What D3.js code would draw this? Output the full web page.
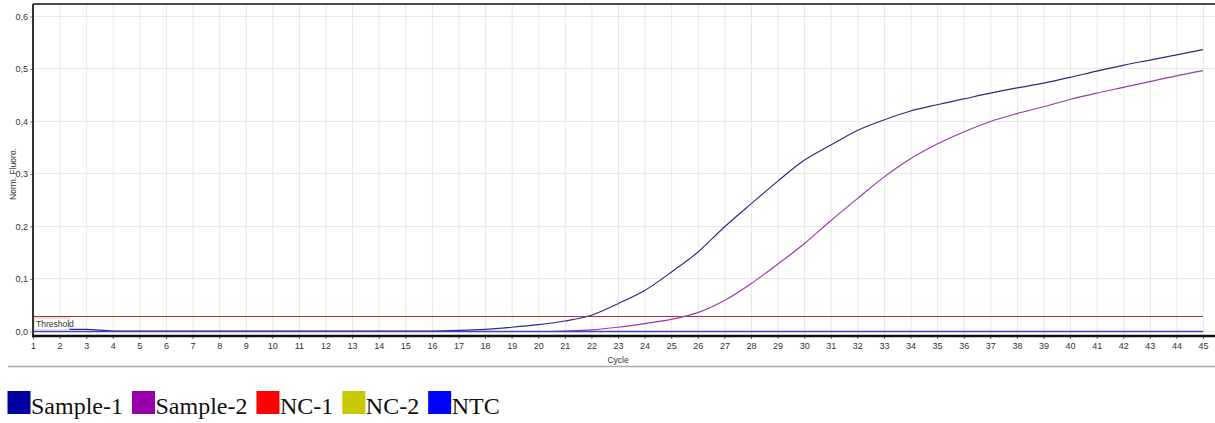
<!DOCTYPE html>
<html>
<head>
<meta charset="utf-8">
<script src="https://cdn.jsdelivr.net/npm/d3@7"></script>
<style>
  body { margin: 0; background: #fff; }
  svg { display: block; }
  .tick-label { font-family: "Liberation Sans", Arial, sans-serif; font-size: 9px; fill: #333; }
  .legend-label { font-family: "Liberation Serif", "Times New Roman", serif; font-size: 24px; fill: #111; }
</style>
</head>
<body>
<script>
(function () {
  'use strict';

  // cycles 1..45
  var cycles = d3.range(1, 46);

  // normalised fluorescence per cycle
  var sample1 = [0.004, 0.004, 0.004, 0.001, 0.001, 0.001, 0.001, 0.001, 0.001, 0.001,
    0.001, 0.001, 0.001, 0.001, 0.001, 0.001, 0.002, 0.004, 0.008, 0.013,
    0.020, 0.031, 0.053, 0.078, 0.113, 0.151, 0.199, 0.243, 0.286, 0.326,
    0.355, 0.383, 0.403, 0.420, 0.432, 0.443, 0.454, 0.464, 0.473, 0.484,
    0.496, 0.507, 0.517, 0.527, 0.537];
  var sample2 = [0.000, 0.000, 0.000, 0.000, 0.000, 0.000, 0.000, 0.000, 0.000, 0.000,
    0.000, 0.000, 0.000, 0.000, 0.000, 0.000, 0.000, 0.000, 0.000, 0.000,
    0.001, 0.003, 0.008, 0.015, 0.023, 0.036, 0.059, 0.091, 0.128, 0.167,
    0.211, 0.253, 0.294, 0.329, 0.357, 0.380, 0.400, 0.415, 0.428, 0.442,
    0.454, 0.465, 0.476, 0.487, 0.497];
  var nc1 = cycles.map(function () { return 0.0; });
  var nc2 = cycles.map(function () { return 0.0; });
  var ntc = cycles.map(function () { return 0.0; });

  var threshold = 0.03;
  var yTicks = [0.0, 0.1, 0.2, 0.3, 0.4, 0.5, 0.6];

  // drawing order: last one ends on top
  var series = [
    { name: "NC-1", values: nc1, legend: "#ff0000", line: "#d04040" },
    { name: "NC-2", values: nc2, legend: "#c8c800", line: "#b0b020" },
    { name: "Sample-2", values: sample2, legend: "#9900aa", line: "#9a3aaa" },
    { name: "Sample-1", values: sample1, legend: "#0000a0", line: "#2a2a80" },
    { name: "NTC", values: ntc, legend: "#0000ff", line: "#4040c0" }
  ];
  var legendOrder = ["Sample-1", "Sample-2", "NC-1", "NC-2", "NTC"];

  var width = 1215, height = 423;
  var plotLeft = 33, plotRight = 1215, plotTop = 4, plotBottom = 336;

  var svg = d3.select("body").append("svg")
    .attr("width", width)
    .attr("height", height);

  var x = d3.scaleLinear().domain([1, 45.45]).range([plotLeft, plotRight]);
  var y = d3.scaleLinear().domain([-0.0086, 0.6238]).range([plotBottom, plotTop]);

  // grid lines
  var grid = svg.append("g").attr("class", "grid");
  grid.selectAll("line.v").data(cycles).enter().append("line")
    .attr("x1", function (d) { return x(d) + 0.5; })
    .attr("x2", function (d) { return x(d) + 0.5; })
    .attr("y1", plotTop).attr("y2", plotBottom)
    .style("stroke", "#e8e8e8").style("stroke-width", 1);
  grid.selectAll("line.h").data(yTicks).enter().append("line")
    .attr("x1", plotLeft).attr("x2", plotRight)
    .attr("y1", function (d) { return Math.floor(y(d)) + 0.5; })
    .attr("y2", function (d) { return Math.floor(y(d)) + 0.5; })
    .style("stroke", "#e8e8e8").style("stroke-width", 1);

  // threshold line
  svg.append("line")
    .attr("x1", x(1)).attr("x2", x(45))
    .attr("y1", Math.round(y(threshold)) + 0.5).attr("y2", Math.round(y(threshold)) + 0.5)
    .style("stroke", "#c22a2a").style("stroke-width", 1.2);

  // curves
  var line = d3.line()
    .x(function (d, i) { return x(cycles[i]); })
    .y(function (d) { return y(d); })
    .curve(d3.curveMonotoneX);
  svg.append("g").selectAll("path").data(series).enter().append("path")
    .attr("d", function (s) { return line(s.values); })
    .style("fill", "none")
    .style("stroke", function (s) { return s.line; })
    .style("stroke-width", function (s) { return s.name === "NTC" ? 1.4 : 1.15; });

  // threshold label
  var thG = svg.append("g").attr("transform", "translate(34,318)");
  thG.append("rect")
    .attr("width", 35).attr("height", 12)
    .style("fill", "#fff").style("stroke", "#c8c8c8").style("stroke-width", 1);
  thG.append("text")
    .attr("class", "tick-label")
    .attr("x", 2).attr("y", 9)
    .style("font-size", "8.5px")
    .text("Threshold");

  // axes
  var yAxis = d3.axisLeft(y).tickValues(yTicks).tickSize(3)
    .tickFormat(function (d) { return d3.format(".1f")(d).replace(".", ","); });
  var yG = svg.append("g").attr("transform", "translate(" + plotLeft + ",0)").call(yAxis);
  yG.select(".domain").remove();
  yG.selectAll(".tick line").attr("stroke", "#888");
  yG.selectAll(".tick text").attr("class", "tick-label").attr("x", -5);

  var xAxis = d3.axisBottom(x).tickValues(cycles).tickSize(3).tickFormat(d3.format("d"));
  var xG = svg.append("g").attr("transform", "translate(0," + plotBottom + ")").call(xAxis);
  xG.select(".domain").remove();
  xG.selectAll(".tick line").attr("stroke", "#666");
  xG.selectAll(".tick text").attr("class", "tick-label").attr("y", 7);

  // frame
  svg.append("line").attr("x1", plotLeft).attr("x2", plotRight)
    .attr("y1", plotTop).attr("y2", plotTop)
    .style("stroke", "#111").style("stroke-width", 1.5);
  svg.append("line").attr("x1", plotLeft).attr("x2", plotLeft)
    .attr("y1", plotTop).attr("y2", plotBottom)
    .style("stroke", "#333").style("stroke-width", 2);
  svg.append("line").attr("x1", plotLeft - 1).attr("x2", plotRight)
    .attr("y1", plotBottom).attr("y2", plotBottom)
    .style("stroke", "#111").style("stroke-width", 2.5);

  // axis titles
  svg.append("text")
    .attr("class", "tick-label")
    .attr("x", x(23)).attr("y", 363)
    .attr("text-anchor", "middle")
    .style("font-size", "8.5px")
    .text("Cycle");
  svg.append("text")
    .attr("class", "tick-label")
    .attr("transform", "translate(16," + y(0.3) + ") rotate(-90)")
    .attr("text-anchor", "middle")
    .style("font-size", "8.5px")
    .text("Norm. Fluoro.");

  // separator
  svg.append("line").attr("x1", 8).attr("x2", width)
    .attr("y1", 366.5).attr("y2", 366.5)
    .style("stroke", "#aaa").style("stroke-width", 1.5);

  // legend
  var legendG = svg.append("g").attr("class", "legend");
  var lx = 7.5;
  legendOrder.forEach(function (name) {
    var s = series.filter(function (d) { return d.name === name; })[0];
    legendG.append("rect")
      .attr("x", lx).attr("y", 391)
      .attr("width", 23).attr("height", 23)
      .style("fill", s.legend);
    var t = legendG.append("text")
      .attr("class", "legend-label")
      .attr("x", lx + 23.5).attr("y", 414)
      .text(s.name);
    lx += 23.5 + t.node().getComputedTextLength() + 9;
  });
})();
</script>
</body>
</html>
